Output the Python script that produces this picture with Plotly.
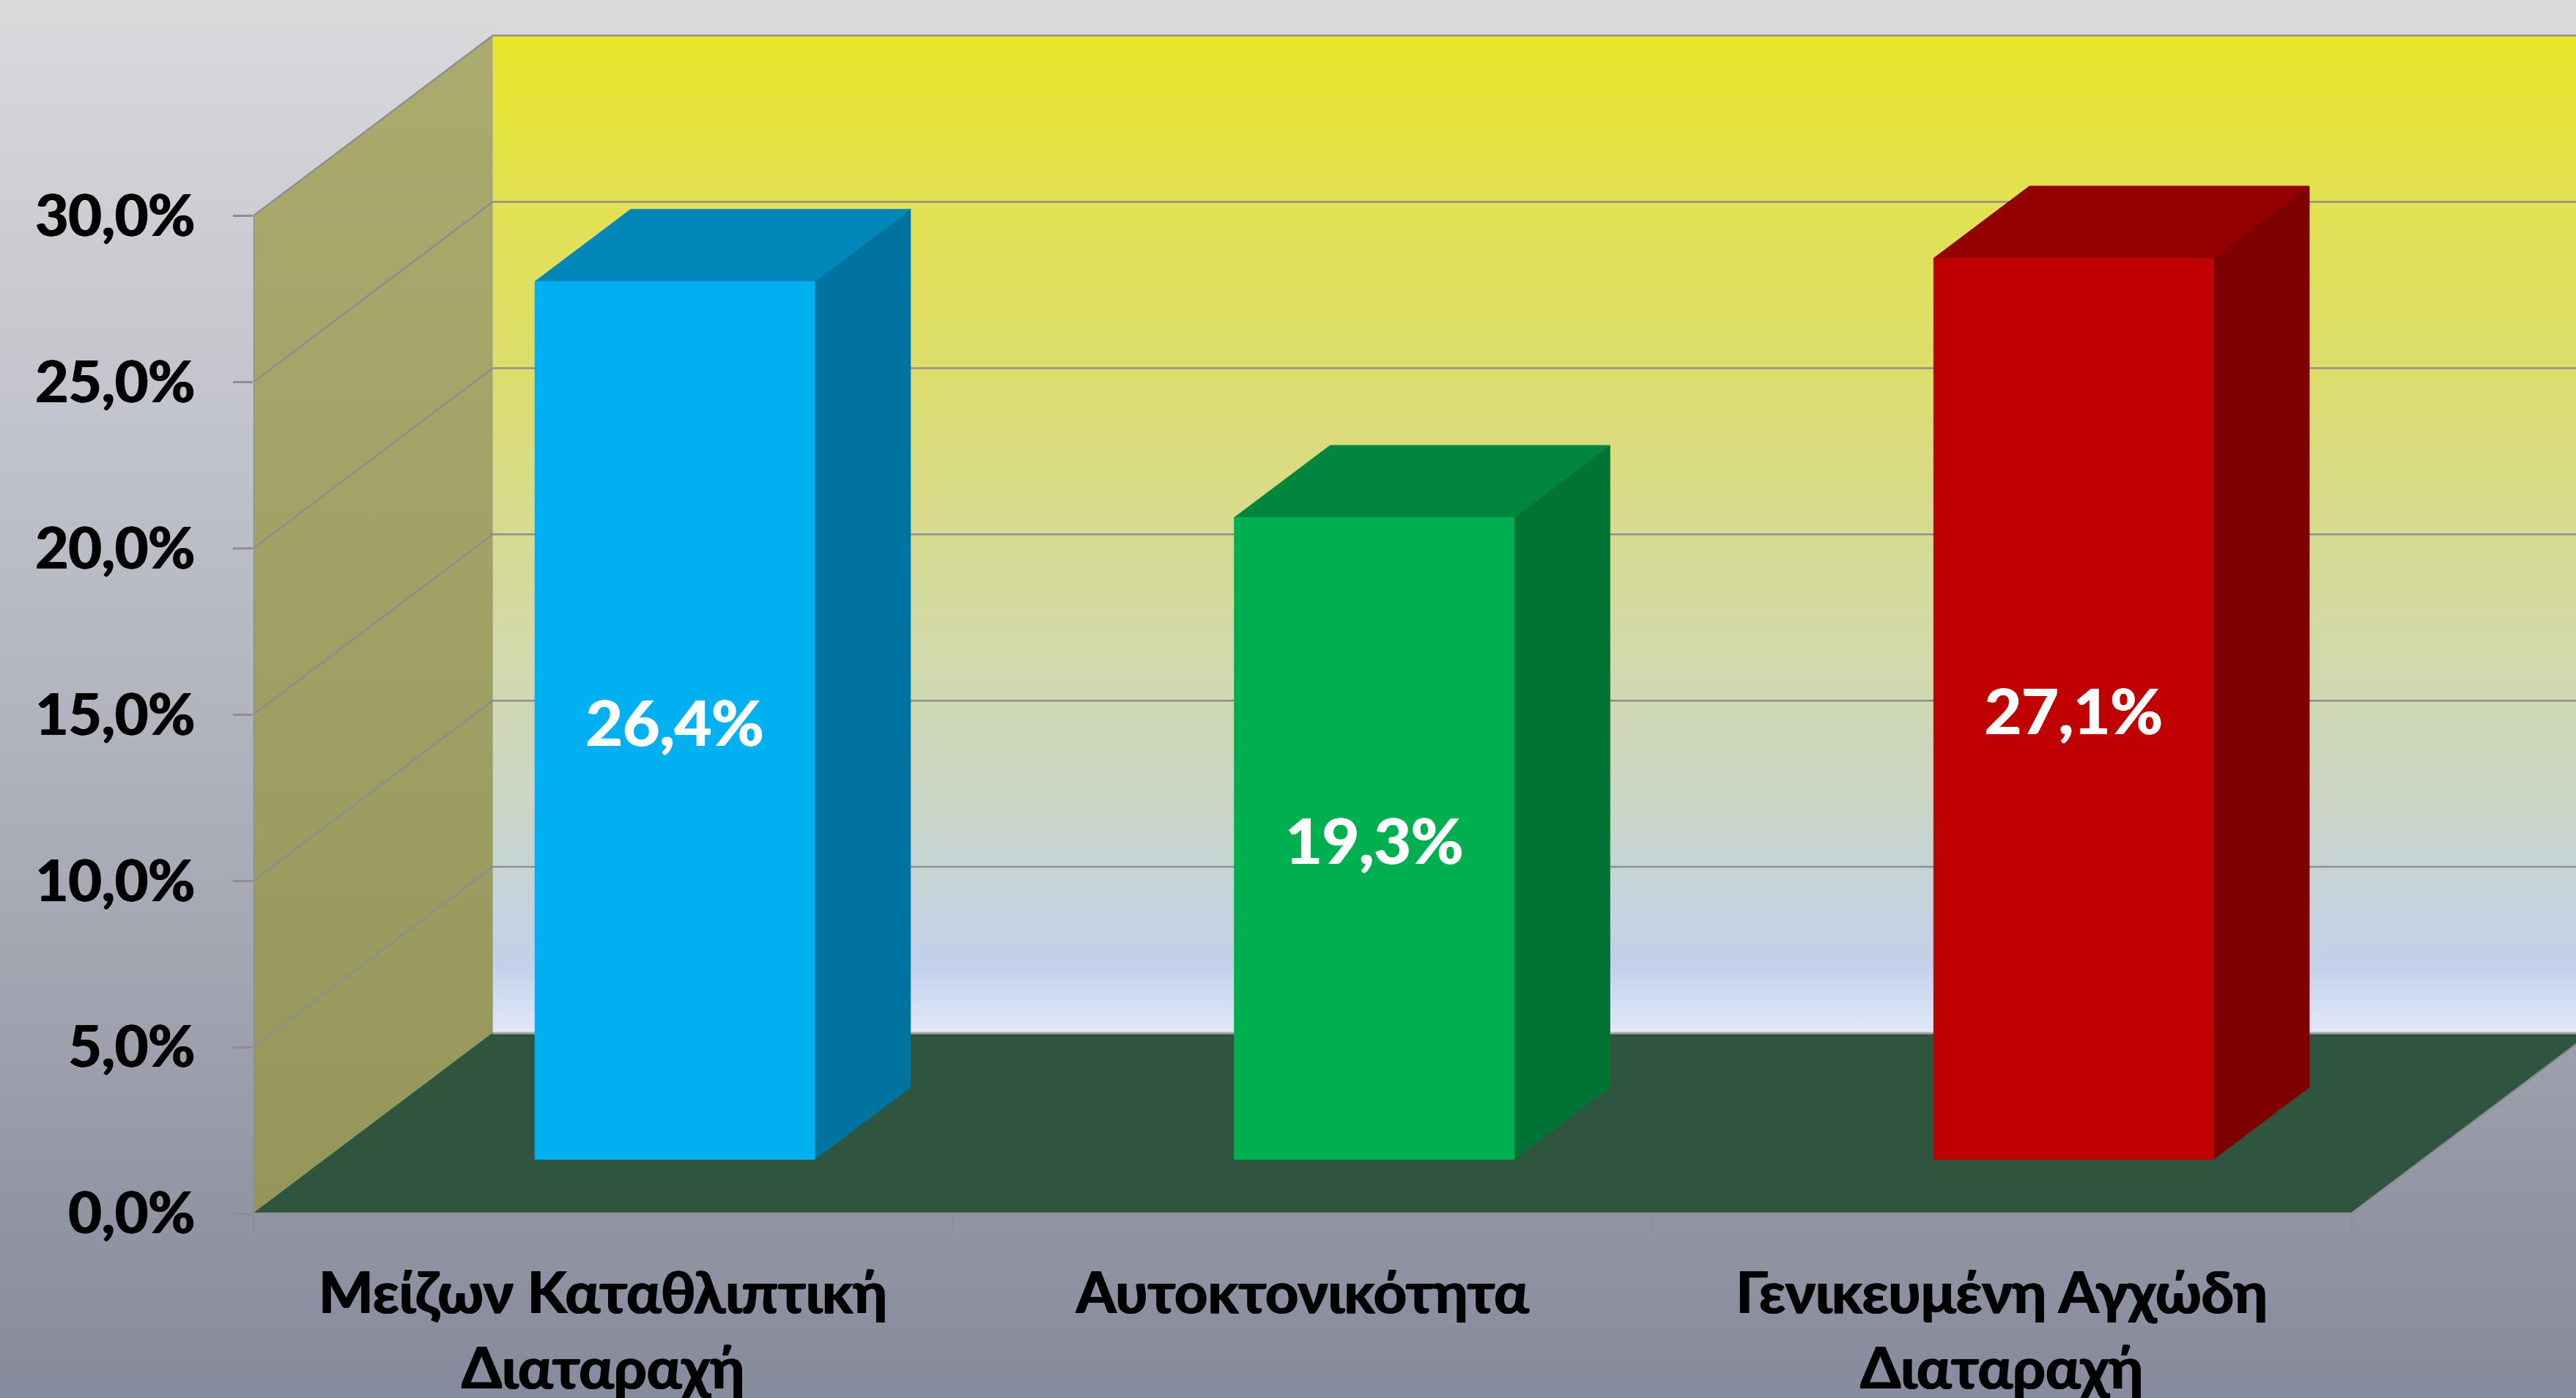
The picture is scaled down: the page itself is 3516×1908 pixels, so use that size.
import plotly.graph_objects as go

# ---- data ----
categories = ["Μείζων Καταθλιπτική<br>Διαταραχή", "Αυτοκτονικότητα", "Γενικευμένη Αγχώδη<br>Διαταραχή"]
values = [26.4, 19.3, 27.1]
value_labels = ["26,4%", "19,3%", "27,1%"]
y_ticks = [0, 5, 10, 15, 20, 25, 30]
y_tick_labels = ["0,0%", "5,0%", "10,0%", "15,0%", "20,0%", "25,0%", "30,0%"]
front_colors = ["#00B0F0", "#00B050", "#C00000"]
side_colors = ["#0073A0", "#007335", "#7E0000"]
top_colors = ["#0086B8", "#00863D", "#920000"]

# ---- oblique projection (in axis units) ----
W, H = 3516, 1908
PL, PB = 345.8, 252.0          # plot origin from left / bottom
CAT_PX, PCT_PX = 954.6, 45.38  # pixels per category / per percent
DX, DY = 326.7 / CAT_PX, 246.0 / PCT_PX  # wall depth
BAR_W = 0.40
F0, F1 = 0.30, 0.70            # bar front/back position inside the depth
LABEL_SHIFT = -0.28            # optical centring of the value labels
XMAX = (W - PL) / CAT_PX
YMAX = (H - PB) / PCT_PX
NCAT = len(categories)
GRID = "#8E8E8E"
FONT = "Lato, 'Noto Sans', sans-serif"


def poly(xs, ys, color):
    return go.Scatter(x=xs, y=ys, xaxis="x2", yaxis="y2", mode="lines", fill="toself",
                      fillcolor=color, line=dict(color=color, width=1), hoverinfo="skip",
                      showlegend=False)


def line(xs, ys, width=2.5, color=GRID):
    return go.Scatter(x=xs, y=ys, xaxis="x2", yaxis="y2", mode="lines",
                      line=dict(color=color, width=width), hoverinfo="skip", showlegend=False)


def grad_poly(xs, ys, stops, lo, hi, xa="x2", ya="y2"):
    return go.Scatter(x=xs, y=ys, xaxis=xa, yaxis=ya, mode="lines", fill="toself",
                      line=dict(width=0, color="rgba(0,0,0,0)"), hoverinfo="skip", showlegend=False,
                      fillgradient=dict(type="vertical", start=lo, stop=hi, colorscale=stops))


fig = go.Figure()

# page background
fig.add_trace(grad_poly([0, 1, 1, 0, 0], [0, 0, 1, 1, 0],
                        [[0, "#868B9D"], [0.13, "#9195A3"], [0.32, "#A4A7B2"], [0.633, "#BDBFC8"],
                         [0.843, "#CDCED3"], [1, "#D9DADC"]], 0, 1, "x", "y"))

ymax_wall = y_ticks[-1]
# back wall
fig.add_trace(grad_poly([DX, XMAX + 1, XMAX + 1, DX, DX],
                        [DY, DY, ymax_wall + DY, ymax_wall + DY, DY],
                        [[0, "#E2E8F7"], [0.04, "#CFDBF1"], [0.067, "#C2D1EA"], [0.126, "#C6D2DD"],
                         [0.167, "#C6D4D4"], [0.25, "#CCD6C3"], [0.333, "#CFD8B2"], [0.374, "#D2D9AC"],
                         [0.52, "#D7DB8C"], [0.667, "#DCDD6C"], [0.833, "#E2E152"], [1, "#E8E527"]],
                        DY, ymax_wall + DY))
# left wall
fig.add_trace(grad_poly([0, DX, DX, 0, 0], [0, DY, ymax_wall + DY, ymax_wall, 0],
                        [[0, "#94965A"], [1, "#ACAB6E"]], 0, ymax_wall + DY))
# floor
fig.add_trace(poly([0, NCAT, NCAT + DX, DX, 0], [0, 0, DY, DY, 0], "#2F5540"))

# grid lines on the walls
for t in y_ticks[1:]:
    fig.add_trace(line([0, DX, XMAX + 1], [t, t + DY, t + DY]))
fig.add_trace(line([0, 0], [0, ymax_wall]))
fig.add_trace(line([0, NCAT, NCAT + DX], [0, 0, DY]))
fig.add_trace(line([DX, XMAX + 1], [DY, DY], 3, "#A8A8A8"))

# bars
label_x, label_y = [], []
for i, v in enumerate(values):
    x0 = i + 0.5 - BAR_W / 2
    x1 = i + 0.5 + BAR_W / 2
    fx0, fy0 = F0 * DX, F0 * DY
    fx1, fy1 = F1 * DX, F1 * DY
    fig.add_trace(poly([x1 + fx0, x1 + fx1, x1 + fx1, x1 + fx0, x1 + fx0],
                       [fy0, fy1, fy1 + v, fy0 + v, fy0], side_colors[i]))
    fig.add_trace(poly([x0 + fx0, x1 + fx0, x1 + fx1, x0 + fx1, x0 + fx0],
                       [fy0 + v, fy0 + v, fy1 + v, fy1 + v, fy0 + v], top_colors[i]))
    fig.add_trace(poly([x0 + fx0, x1 + fx0, x1 + fx0, x0 + fx0, x0 + fx0],
                       [fy0, fy0, fy0 + v, fy0 + v, fy0], front_colors[i]))
    label_x.append((x0 + x1) / 2 + fx0)
    label_y.append(fy0 + v / 2 + LABEL_SHIFT)

fig.add_trace(go.Scatter(x=label_x, y=label_y, xaxis="x2", yaxis="y2", mode="text",
                         text=value_labels, textposition="middle center",
                         textfont=dict(family=FONT, size=87, color="white", weight=700,
                                       shadow="1px 0 0 white, -1px 0 0 white"),
                         hoverinfo="skip", showlegend=False))

fig.update_layout(
    width=W, height=H, autosize=False, margin=dict(l=0, r=0, t=0, b=0, pad=0),
    paper_bgcolor="#B0B2BC", plot_bgcolor="rgba(0,0,0,0)", showlegend=False,
    xaxis=dict(domain=[0, 1], range=[0, 1], visible=False, fixedrange=True, automargin=False),
    yaxis=dict(domain=[0, 1], range=[0, 1], visible=False, fixedrange=True, automargin=False),
    xaxis2=dict(domain=[PL / W, 1], range=[0, XMAX], anchor="y2", showgrid=False, zeroline=False,
                showline=False, tickmode="array", tickvals=[i + 0.5 for i in range(NCAT)],
                ticktext=categories, ticks="", ticklen=0, ticklabelstandoff=56, automargin=False,
                tickfont=dict(family=FONT, size=79, color="black", weight=700,
                              shadow="1px 0 0 black, -1px 0 0 black"),
                minor=dict(tickmode="array", tickvals=list(range(NCAT + 1)), ticks="outside",
                           ticklen=27, tickwidth=2, tickcolor=GRID, showgrid=False),
                fixedrange=True),
    yaxis2=dict(domain=[PB / H, 1], range=[0, YMAX], anchor="x2", showgrid=False, zeroline=False,
                showline=False, tickmode="array", tickvals=y_ticks, ticktext=y_tick_labels,
                ticks="outside", ticklen=27, tickwidth=3, tickcolor=GRID, ticklabelstandoff=36,
                automargin=False,
                tickfont=dict(family=FONT, size=78, color="black", weight=700,
                              shadow="1px 0 0 black, -1px 0 0 black"),
                fixedrange=True),
)

fig.write_html("out.html", config={"displayModeBar": False},
               post_script="document.body.style.margin='0';document.body.style.overflow='hidden';")
